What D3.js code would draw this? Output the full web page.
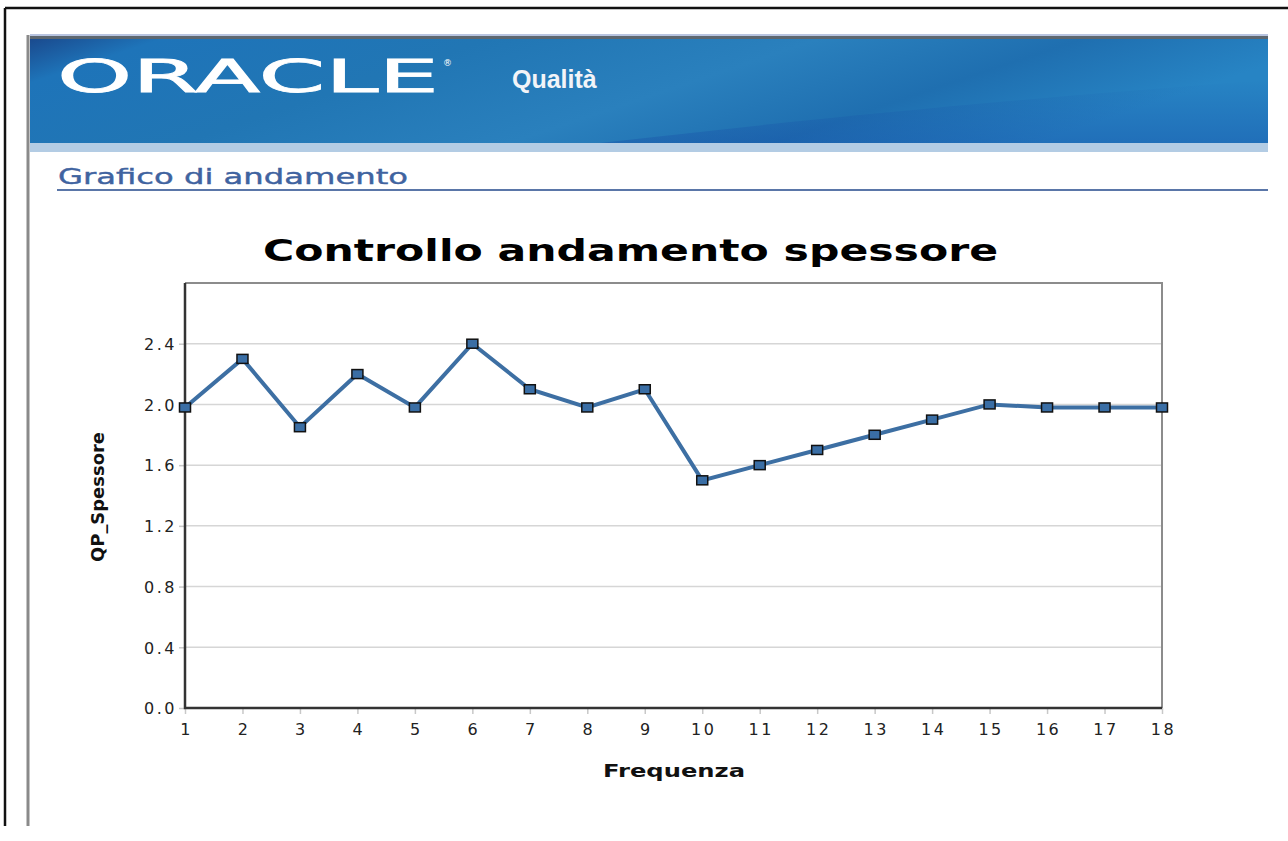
<!DOCTYPE html>
<html><head><meta charset="utf-8">
<script src="https://cdn.jsdelivr.net/npm/d3@7"></script>
<style>
html,body{margin:0;padding:0;background:#fff;overflow:hidden;}
svg{display:block;}
</style></head>
<body>
<script>
const categories = [1,2,3,4,5,6,7,8,9,10,11,12,13,14,15,16,17,18];
const values = [1.98,2.30,1.85,2.20,1.98,2.40,2.10,1.98,2.10,1.50,1.60,1.70,1.80,1.90,2.00,1.98,1.98,1.98];
const yTicks = [0.0,0.4,0.8,1.2,1.6,2.0,2.4];
const title = "Controllo andamento spessore";
const xLabel = "Frequenza";
const yLabel = "QP_Spessore";
const pageHeading = "Grafico di andamento";
const appName = "Qualità";

const W = 1288, H = 841;
const svg = d3.select("body").append("svg").attr("width", W).attr("height", H);
const defs = svg.append("defs");

// frame
svg.append("line").attr("x1",5).attr("x2",W).attr("y1",8).attr("y2",8).attr("stroke","#111").attr("stroke-width",2.5);
svg.append("line").attr("x1",5).attr("x2",5).attr("y1",8).attr("y2",826).attr("stroke","#111").attr("stroke-width",2.5);
svg.append("line").attr("x1",28).attr("x2",28).attr("y1",35).attr("y2",826).attr("stroke","#8a8a8a").attr("stroke-width",3);

// banner
const g1 = defs.append("linearGradient").attr("id","bn").attr("x1","0").attr("y1","0").attr("x2","1").attr("y2","0.25");
[["0","#1a4a8e"],["0.1","#1e74b9"],["0.35","#2176b4"],["0.6","#2a80bd"],["0.8","#1f6fb0"],["1","#2784c4"]].forEach(s=>g1.append("stop").attr("offset",s[0]).attr("stop-color",s[1]));
svg.append("rect").attr("x",30).attr("y",34).attr("width",1238).attr("height",2).attr("fill","#b8c4e0");
svg.append("rect").attr("x",30).attr("y",36).attr("width",1238).attr("height",3).attr("fill","#5d6770");
svg.append("rect").attr("x",30).attr("y",39).attr("width",1238).attr("height",104).attr("fill","url(#bn)");
const g2 = defs.append("linearGradient").attr("id","sw").attr("x1","0").attr("y1","0").attr("x2","0").attr("y2","1");
g2.append("stop").attr("offset","0").attr("stop-color","#1850a8").attr("stop-opacity",0);
g2.append("stop").attr("offset","1").attr("stop-color","#1850a8").attr("stop-opacity",0.4);
svg.append("path").attr("d","M600,143 C800,120 1000,100 1268,80 L1268,143 Z").attr("fill","url(#sw)");
svg.append("rect").attr("x",30).attr("y",143).attr("width",1238).attr("height",9).attr("fill","#b3cce4");

svg.append("text").attr("x",57).attr("y",92).attr("fill","#fff").attr("stroke","#fff").attr("stroke-width",0.8)
  .attr("font-family","DejaVu Sans").attr("font-size",45).attr("font-weight","normal")
  .attr("textLength",382).attr("lengthAdjust","spacingAndGlyphs").text("ORACLE");
svg.append("text").attr("x",443).attr("y",66).attr("fill","#fff").attr("font-family","DejaVu Sans").attr("font-size",9).text("®");
svg.append("text").attr("x",512).attr("y",88).attr("fill","#f2f4f8")
  .attr("font-family","Liberation Sans, Arial").attr("font-size",25).attr("font-weight","bold").text(appName);

// page heading
svg.append("text").attr("x",58).attr("y",184).attr("fill","#3f63a0")
  .attr("font-family","DejaVu Sans").attr("font-size",22).attr("stroke","#3f63a0").attr("stroke-width",0.4)
  .attr("textLength",350).attr("lengthAdjust","spacingAndGlyphs").text(pageHeading);
svg.append("rect").attr("x",57).attr("y",189).attr("width",1211).attr("height",2).attr("fill","#5a76a8");

// chart
const L = 185, R = 1162, T = 283, B = 708;
const x = d3.scaleLinear().domain([1,18]).range([L,R]);
const y = d3.scaleLinear().domain([0,2.8]).range([B,T]);

svg.append("text").attr("x",(L+R)/2 - 43).attr("y",261).attr("text-anchor","middle")
  .attr("font-family","DejaVu Sans").attr("font-weight","bold").attr("font-size",31)
  .attr("textLength",735).attr("lengthAdjust","spacingAndGlyphs").text(title);

// gridlines
svg.append("g").selectAll("line").data(yTicks.filter(d=>d>0)).join("line")
  .attr("x1",L).attr("x2",R).attr("y1",d=>y(d)).attr("y2",d=>y(d))
  .attr("stroke","#d6d6d6").attr("stroke-width",1.5);

// top/right border
svg.append("path").attr("d",`M${L},${T}H${R}V${B}`).attr("fill","none").attr("stroke","#8c8c8c").attr("stroke-width",2);

// axes
const yAxis = d3.axisLeft(y).tickValues(yTicks).tickFormat(d3.format(".1f")).tickSize(6).tickPadding(4);
const ya = svg.append("g").attr("transform",`translate(${L},0)`).call(yAxis);
ya.select(".domain").remove();
ya.selectAll(".tick line").attr("stroke","#c8c8c8").attr("stroke-width",1.5);
ya.selectAll(".tick text").attr("font-family","DejaVu Sans").attr("font-size",16).attr("fill","#222")
  .attr("letter-spacing",2.5).attr("dy","0.36em").attr("dx",2);

const xAxis = d3.axisBottom(x).tickValues(categories).tickFormat(d3.format("d")).tickSize(6).tickPadding(10);
const xa = svg.append("g").attr("transform",`translate(0,${B})`).call(xAxis);
xa.select(".domain").remove();
xa.selectAll(".tick line").attr("stroke","#c8c8c8").attr("stroke-width",1.5);
xa.selectAll(".tick text").attr("font-family","DejaVu Sans").attr("font-size",16).attr("fill","#222")
  .attr("letter-spacing",2.5).attr("dx",1);

svg.append("path").attr("d",`M${L},${T}V${B}H${R}`).attr("fill","none").attr("stroke","#333").attr("stroke-width",2.5);

// axis titles
svg.append("text").attr("x",674).attr("y",777).attr("text-anchor","middle")
  .attr("font-family","DejaVu Sans").attr("font-weight","bold").attr("font-size",18).attr("fill","#111")
  .attr("textLength",142).attr("lengthAdjust","spacingAndGlyphs").text(xLabel);
svg.append("text").attr("transform",`translate(104,497) rotate(-90)`).attr("text-anchor","middle")
  .attr("font-family","DejaVu Sans Condensed, DejaVu Sans").attr("font-stretch","condensed").attr("font-weight","bold")
  .attr("font-size",18).attr("fill","#111").attr("textLength",130).attr("lengthAdjust","spacingAndGlyphs").text(yLabel);

// line
const line = d3.line().x((d,i)=>x(categories[i])).y(d=>y(d));
svg.append("path").datum(values).attr("d",line).attr("fill","none")
  .attr("stroke","#3d6fa3").attr("stroke-width",4).attr("stroke-linejoin","miter");
svg.append("g").selectAll("rect").data(values).join("rect")
  .attr("x",(d,i)=>x(categories[i])-5.5).attr("y",d=>y(d)-4.5)
  .attr("width",11).attr("height",9)
  .attr("fill","#3a6ea5").attr("stroke","#111").attr("stroke-width",1.5);
</script>
</body></html>
